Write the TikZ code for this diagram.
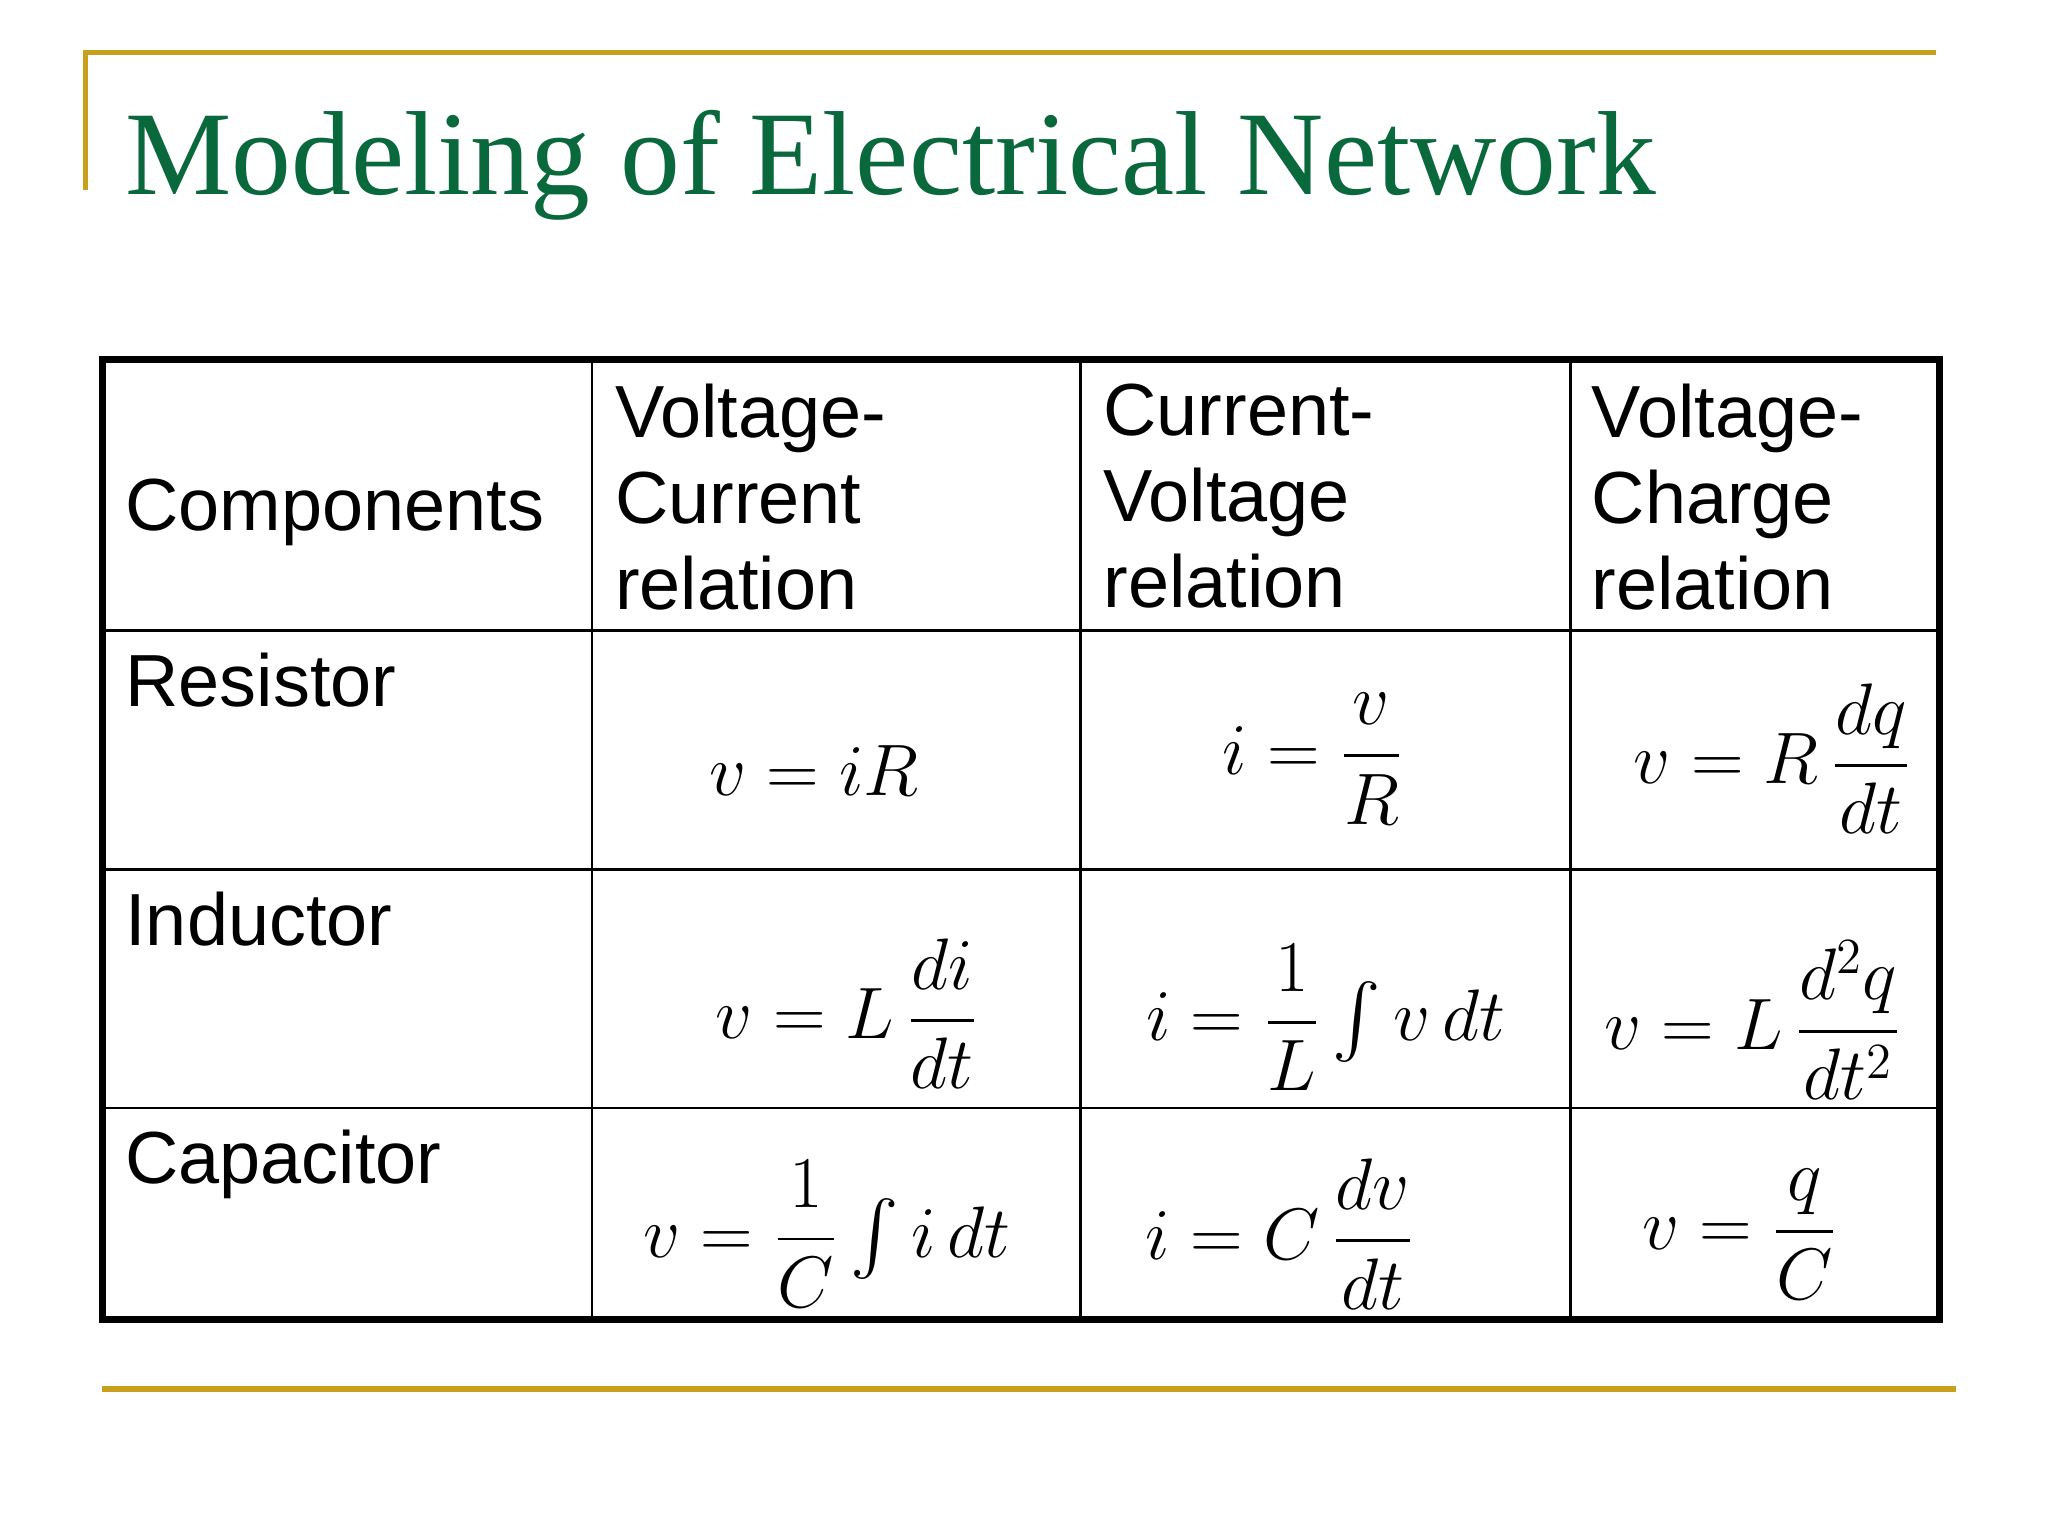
\documentclass[tikz,border=0pt]{standalone}
\usepackage{amsmath}
\usepackage{fontspec}
\setmainfont{Liberation Serif}
\newfontfamily\sansf{Liberation Sans}
\usetikzlibrary{calc}
\definecolor{gold}{RGB}{200,160,30}
\definecolor{titlegreen}{RGB}{10,105,60}
\tikzset{
  cell/.style={anchor=north west, inner sep=0pt, align=left, font=\sansf\fontsize{21}{24.5}\selectfont},
  eq/.style={inner sep=0pt, font=\fontsize{20}{24}\selectfont},
  grid/.style={line width=0.8pt},
  frame/.style={line width=2pt}
}
\begin{document}
\begin{tikzpicture}[x=0.013128cm,y=-0.013128cm]
\useasboundingbox (0,0) rectangle (1560,1170);
% decoration lines
\draw[gold, line width=1.5pt] (65,145) -- (65,40) -- (1475,40);
\draw[gold, line width=1.5pt] (78,1058) -- (1490,1058);
\node (title) [anchor=base west, inner sep=0pt, text=titlegreen, font=\fontsize{34}{36}\selectfont] at (95,148) {Modeling of Electrical Network};
% table grid
\draw[grid] (451,274) -- (451,1005) (823,274) -- (823,1005) (1196,274) -- (1196,1005);
\draw[grid] (78,480) -- (1477,480) (78,662) -- (1477,662) (78,844) -- (1477,844);
\draw[frame] (78,274) rectangle (1477,1005);
% headers
\node (h0) [cell, anchor=west] at (95,390) {Components};
\node (h1) [cell] at (468,292) {Voltage-\\Current\\relation};
\node (h2) [cell] at (840,292) {Current-\\Voltage\\relation};
\node (h3) [cell] at (1212,292) {Voltage-\\Charge\\relation};
\node (r1) [cell] at (95,497) {Resistor};
\node (r2) [cell] at (95,679) {Inductor};
\node (r3) [cell] at (95,860) {Capacitor};
% equations
\node (e11) [eq] at (620,587) {$v = iR$};
\node (e12) [eq] at (1000,578) {$i = \dfrac{v}{R}$};
\node (e13) [eq] at (1350,578) {$v = R\,\dfrac{dq}{dt}$};
\node (e21) [eq] at (645,772) {$v = L\,\dfrac{di}{dt}$};
\node (e22) [eq] at (1010,775) {$i = \dfrac{1}{L}\int v\,dt$};
\node (e23) [eq] at (1335,777) {$v = L\,\dfrac{d^2q}{dt^2}$};
\node (e31) [eq] at (630,940) {$v = \dfrac{1}{C}\int i\,dt$};
\node (e32) [eq] at (975,940) {$i = C\,\dfrac{dv}{dt}$};
\node (e33) [eq] at (1325,940) {$v = \dfrac{q}{C}$};
\end{tikzpicture}
\end{document}
